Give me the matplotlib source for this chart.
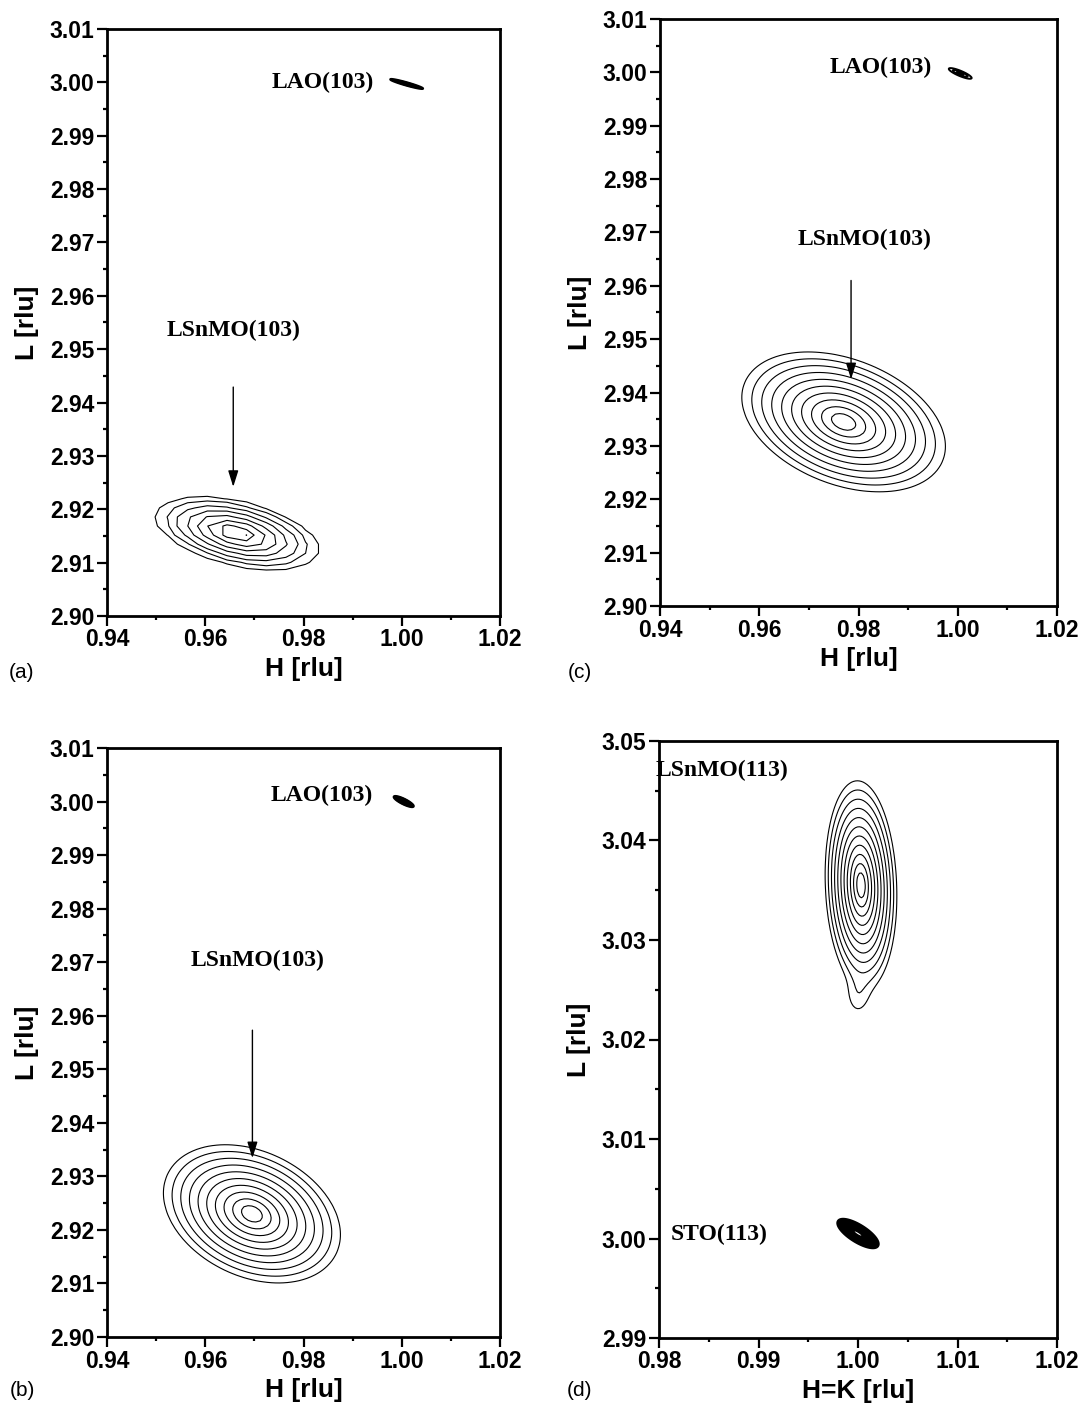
import numpy as np
import matplotlib
matplotlib.use('Agg')
import matplotlib.pyplot as plt
from matplotlib.ticker import MultipleLocator, FormatStrFormatter

plt.rcParams['font.family'] = ['Liberation Sans', 'DejaVu Sans']
plt.rcParams['font.weight'] = 'bold'
plt.rcParams['axes.labelweight'] = 'bold'

# Reciprocal space map peaks (panel order a, b, c, d)
# centre (H, L), half-extent of the outer contour in H and L, H-L correlation, contour count
film_H = [0.9665, 0.9695, 0.9770, 1.0003]
film_L = [2.9155, 2.9230, 2.9345, 3.0355]
film_wH = [0.0163, 0.0180, 0.0205, 0.0036]
film_wL = [0.0068, 0.0129, 0.0131, 0.0105]
film_rho = [-0.45, -0.30, -0.35, -0.10]
film_nlev = [8, 10, 10, 11]

sub_H = [1.0010, 1.0004, 1.0005, 1.0000]
sub_L = [2.9997, 3.0000, 2.9998, 3.0005]
sub_wH = [0.0033, 0.0020, 0.0023, 0.0020]
sub_wL = [0.0009, 0.0010, 0.0010, 0.0014]
sub_rho = [-0.95, -0.85, -0.85, -0.75]
sub_nlev = [3, 5, 3, 7]

# narrow tail below the LSnMO(113) peak in (d), widths are sigmas
tail_H = 0.9999
tail_L = 3.0240
tail_sH = 0.0009
tail_sL = 0.0015
tail_amp = 0.07

film_names = ['LSnMO(103)', 'LSnMO(103)', 'LSnMO(103)', 'LSnMO(113)']
sub_names = ['LAO(103)', 'LAO(103)', 'LAO(103)', 'STO(113)']
panel_tags = ['(a)', '(b)', '(c)', '(d)']
x_labels = ['H [rlu]', 'H [rlu]', 'H [rlu]', 'H=K [rlu]']

R_OUT = 2.2  # outer contour sits at R_OUT sigma


def peak(HH, LL, h0, l0, sh, sl, rho):
    x = (HH - h0) / sh
    y = (LL - l0) / sl
    q = (x**2 - 2 * rho * x * y + y**2) / (1 - rho**2)
    return np.exp(-0.5 * q)


def contour_levels(n, r_in):
    r = np.linspace(1.0, r_in, n) * R_OUT
    return np.sort(np.exp(-0.5 * r**2))


def draw_panel(ax, i, xlim, ylim, xmaj, step, sub_lw):
    # film peak
    h = np.arange(film_H[i] - 1.6 * film_wH[i], film_H[i] + 1.6 * film_wH[i], step[0])
    l = np.arange(film_L[i] - 1.8 * film_wL[i], film_L[i] + 1.6 * film_wL[i], step[1])
    HH, LL = np.meshgrid(h, l)
    I = peak(HH, LL, film_H[i], film_L[i], film_wH[i] / R_OUT, film_wL[i] / R_OUT, film_rho[i])
    if i == 3:
        I = I + tail_amp * peak(HH, LL, tail_H, tail_L, tail_sH, tail_sL, 0.0)
    ax.contour(HH, LL, I, levels=contour_levels(film_nlev[i], 0.12),
               colors='k', linewidths=0.8)

    # substrate peak
    h = np.linspace(sub_H[i] - 2 * sub_wH[i], sub_H[i] + 2 * sub_wH[i], 120)
    l = np.linspace(sub_L[i] - 2 * sub_wL[i], sub_L[i] + 2 * sub_wL[i], 120)
    HH, LL = np.meshgrid(h, l)
    I = peak(HH, LL, sub_H[i], sub_L[i], sub_wH[i] / R_OUT, sub_wL[i] / R_OUT, sub_rho[i])
    ax.contour(HH, LL, I, levels=contour_levels(sub_nlev[i], 0.3),
               colors='k', linewidths=sub_lw)

    ax.set_xlim(*xlim)
    ax.set_ylim(*ylim)
    ax.xaxis.set_major_locator(MultipleLocator(xmaj))
    ax.xaxis.set_minor_locator(MultipleLocator(xmaj / 2))
    ax.yaxis.set_major_locator(MultipleLocator(0.01))
    ax.yaxis.set_minor_locator(MultipleLocator(0.005))
    ax.xaxis.set_major_formatter(FormatStrFormatter('%.2f'))
    ax.yaxis.set_major_formatter(FormatStrFormatter('%.2f'))
    ax.tick_params(which='both', direction='out', top=False, right=False,
                   labelsize=16.5, pad=2)
    ax.tick_params(which='major', length=7, width=1.6)
    ax.tick_params(which='minor', length=3, width=1.6)
    for s in ax.spines.values():
        s.set_linewidth(2.0)
    ax.set_xlabel(x_labels[i], fontsize=19, labelpad=4)
    ax.set_ylabel('L [rlu]', fontsize=19, labelpad=8)


fig = plt.figure(figsize=(10.87, 14.10), dpi=100)
W, Hf = 1087.0, 1410.0


def add_axes(left, right, top, bottom):
    return fig.add_axes([left / W, 1 - bottom / Hf, (right - left) / W, (bottom - top) / Hf])


ax_a = add_axes(107, 500, 29, 616)
ax_c = add_axes(660, 1057, 19, 606)
ax_b = add_axes(107, 500, 748, 1337)
ax_d = add_axes(659, 1057, 741, 1338)

serif = dict(family=['Liberation Serif', 'DejaVu Serif'], fontweight='bold', fontsize=17,
             ha='center', va='center')
arrow = dict(arrowstyle='-|>,head_length=0.7,head_width=0.22', color='k', lw=1.0,
             mutation_scale=14, shrinkA=0, shrinkB=0)

# (a)
draw_panel(ax_a, 0, (0.94, 1.02), (2.90, 3.01), 0.02, (0.004, 0.0017), 1.8)
ax_a.text(0.9839, 3.0000, sub_names[0], **serif)
ax_a.text(0.9657, 2.9536, film_names[0], **serif)
ax_a.annotate('', xy=(0.9657, 2.9242), xytext=(0.9657, 2.9429), arrowprops=arrow)

# (b)
draw_panel(ax_b, 1, (0.94, 1.02), (2.90, 3.01), 0.02, (0.0008, 0.0005), 1.8)
ax_b.text(0.9837, 3.0012, sub_names[1], **serif)
ax_b.text(0.9706, 2.9704, film_names[1], **serif)
ax_b.annotate('', xy=(0.9696, 2.9334), xytext=(0.9696, 2.9573), arrowprops=arrow)

# (c)
draw_panel(ax_c, 2, (0.94, 1.02), (2.90, 3.01), 0.02, (0.0008, 0.0005), 1.4)
ax_c.text(0.9845, 3.0010, sub_names[2], **serif)
ax_c.text(0.9813, 2.9686, film_names[2], **serif)
ax_c.annotate('', xy=(0.9785, 2.9425), xytext=(0.9785, 2.9610), arrowprops=arrow)

# (d)
draw_panel(ax_d, 3, (0.98, 1.02), (2.99, 3.05), 0.01, (0.0002, 0.0003), 2.6)
ax_d.text(0.9863, 3.0470, film_names[3], **serif)
ax_d.text(0.9860, 3.0004, sub_names[3], **serif)

# panel tags
for tag, (x, y) in zip(panel_tags, [(22, 673), (22, 1390), (580, 673), (580, 1390)]):
    fig.text(x / W, 1 - y / Hf, tag, fontsize=15, fontweight='normal', ha='center', va='center')

plt.savefig('out.png', dpi=100)
plt.close()
